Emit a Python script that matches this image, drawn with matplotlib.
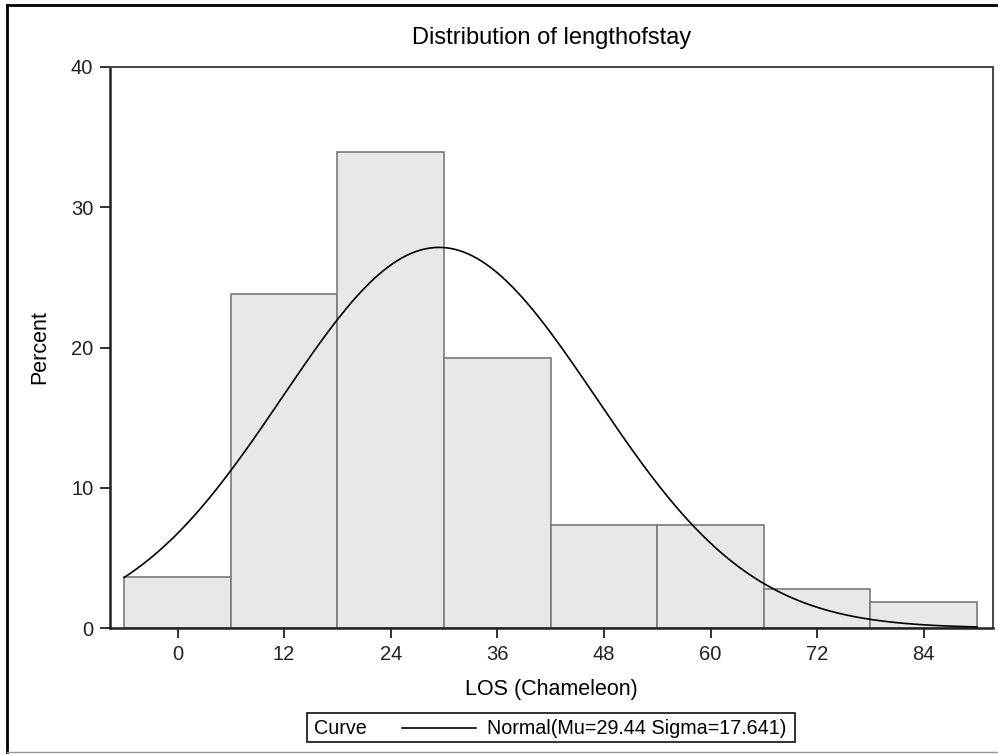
import numpy as np
import matplotlib.pyplot as plt
from matplotlib.patches import Rectangle
from matplotlib.lines import Line2D

plt.rcParams['font.family'] = ['Liberation Sans', 'DejaVu Sans']

# histogram data (percent per bin, bin midpoints)
midpoints = [0, 12, 24, 36, 48, 60, 72, 84]
percent = [3.67, 23.85, 33.94, 19.27, 7.34, 7.34, 2.75, 1.83]
bin_width = 12
mu = 29.44
sigma = 17.641

W, H = 998, 755
fig = plt.figure(figsize=(W/100, H/100), dpi=100)
ax = fig.add_axes([110/W, 1-628/H, (993-110)/W, (628-67)/H])

ax.bar(midpoints, percent, width=bin_width, color='#e8e8e8',
       edgecolor='#7a7a7a', linewidth=1.2, zorder=2)

# fitted normal curve, scaled to percent
xs = np.linspace(midpoints[0]-bin_width/2, midpoints[-1]+bin_width/2, 400)
ys = 100*bin_width*np.exp(-0.5*((xs-mu)/sigma)**2)/(sigma*np.sqrt(2*np.pi))
ax.plot(xs, ys, color='black', linewidth=1.2, zorder=3)

ax.set_xlim(-7.6, 91.8)
ax.set_ylim(0, 40)
ax.set_xticks(midpoints)
ax.set_yticks([0, 10, 20, 30, 40])
ax.tick_params(direction='out', length=7, width=1.3, labelsize=14.5,
               pad=5, colors='#222222')
for s in ax.spines.values():
    s.set_color('#444444')
    s.set_linewidth(1.4)
ax.spines['left'].set_color('#222222')
ax.spines['bottom'].set_color('#222222')
ax.spines['left'].set_linewidth(1.8)
ax.spines['bottom'].set_linewidth(1.8)

ax.set_xlabel('LOS (Chameleon)', fontsize=15.5, labelpad=11)
ax.set_ylabel('Percent', fontsize=15.5, labelpad=15)
fig.text(552/W, 1-38/H, 'Distribution of lengthofstay', fontsize=17,
         ha='center', va='center')

# legend box
fig.patches.append(Rectangle((307/W, 1-742/H), (795-307)/W, (742-713)/H,
                             transform=fig.transFigure, fill=False,
                             edgecolor='#222222', linewidth=1.3))
fig.text(314/W, 1-728/H, 'Curve', fontsize=14.2, ha='left', va='center')
fig.lines.append(Line2D([402/W, 476/W], [1-728/H, 1-728/H],
                        transform=fig.transFigure, color='black', linewidth=1.2))
fig.text(487/W, 1-728/H, 'Normal(Mu=29.44 Sigma=17.641)', fontsize=14.2,
         ha='left', va='center')

# outer frame
fig.lines.append(Line2D([7/W, 7/W], [1-5/H, 1-752/H], transform=fig.transFigure,
                        color='black', linewidth=2))
fig.lines.append(Line2D([7/W, 1], [1-5/H, 1-5/H], transform=fig.transFigure,
                        color='black', linewidth=2))
fig.lines.append(Line2D([7/W, 1], [1-752/H, 1-752/H], transform=fig.transFigure,
                        color='#999999', linewidth=1))

fig.savefig('out.png', dpi=100)
